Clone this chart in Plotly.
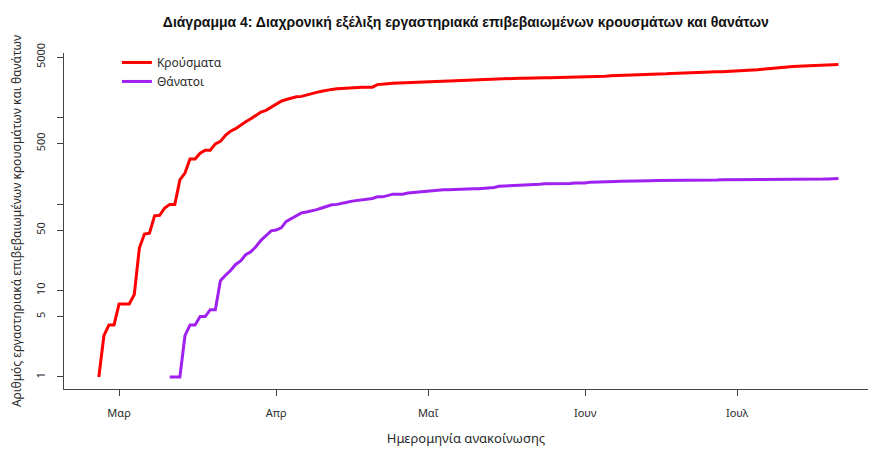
import pandas as pd
import plotly.graph_objects as go

# Κρούσματα: αθροιστικά, ημερήσια από 26/2/2020
cases_start = "2020-02-26"
cases = [1, 3, 4, 4,
         7, 7, 7, 9, 31, 45, 46, 73, 74, 90, 99, 99, 190, 228, 331, 331,
         387, 418, 418, 495, 530, 624, 695, 743, 821, 892, 966, 1061, 1156, 1212, 1314,
         1415, 1544, 1613, 1673, 1735, 1755, 1832, 1884, 1955, 2011, 2081, 2114, 2145, 2170, 2192,
         2207, 2224, 2235, 2235, 2245, 2401, 2408, 2463, 2490, 2506, 2517, 2534, 2566, 2576, 2591,
         2612, 2620, 2626, 2632, 2642, 2663, 2678, 2691, 2710, 2716, 2726, 2744, 2760, 2770, 2819,
         2834, 2836, 2840, 2850, 2853, 2873, 2876, 2878, 2882, 2892, 2903, 2906, 2909, 2915, 2917, 2918,
         2937, 2952, 2967, 2980, 2997, 3049, 3058, 3060, 3083, 3088, 3102, 3112, 3121, 3134, 3148,
         3166, 3203, 3227, 3237, 3256, 3266, 3287, 3302, 3310, 3343, 3366, 3376, 3390, 3409, 3432,
         3458, 3486, 3511, 3519, 3562, 3622, 3672, 3732, 3772, 3803, 3826, 3878, 3910, 3939, 3964,
         3983, 4007, 4012, 4048, 4077, 4109]

# Θάνατοι: αθροιστικά, ημερήσια από 11/3/2020
deaths_start = "2020-03-11"
deaths = [1, 1, 1, 3, 4, 4, 5, 5, 6, 6, 13, 15, 17, 20, 22, 26, 28, 32, 38, 43, 49,
          50, 53, 63, 68, 73, 79, 81, 83, 86, 90, 93, 98, 99, 101, 105, 108, 110, 113, 116, 116,
          121, 121, 125, 130, 130, 130, 134, 136, 138, 139,
          140, 143, 144, 146, 146, 147, 148, 150, 150, 150, 150, 151, 151, 155, 160, 162,
          163, 165, 165, 166, 166, 168, 169, 171, 171, 171, 172, 173, 173, 175, 175,
          175, 179, 179, 180, 180, 182, 182, 183, 183, 183, 183, 183, 184, 186, 187,
          187, 188, 188, 188, 189, 189, 190, 190, 190, 190, 190, 190, 191, 191, 192,
          192, 192, 192, 192, 192, 192, 192, 193, 193, 193, 193, 193, 193,
          194, 194, 194, 194, 194, 195, 195, 197]

month_ticks = ["2020-03-01", "2020-04-01", "2020-05-01", "2020-06-01", "2020-07-01"]
month_labels = ["Μαρ", "Απρ", "Μαΐ", "Ιουν", "Ιουλ"]
y_ticks = [1, 5, 10, 50, 100, 500, 1000, 5000]
y_labels = ["1", "5", "10", "50", "", "500", "", "5000"]

cases_dates = pd.date_range(cases_start, periods=len(cases), freq="D")
deaths_dates = pd.date_range(deaths_start, periods=len(deaths), freq="D")

FONT = "Noto Sans"
TXT = "#2a2a2a"

fig = go.Figure()
fig.add_trace(go.Scatter(x=cases_dates, y=cases, mode="lines", name="Κρούσματα",
                         line=dict(color="#FF0000", width=3)))
fig.add_trace(go.Scatter(x=deaths_dates, y=deaths, mode="lines", name="Θάνατοι",
                         line=dict(color="#A020F0", width=3)))

# η σελίδα έχει περιθώριο 8px, οπότε το σχήμα είναι 8px μικρότερο
fig.update_layout(
    width=872, height=454,
    margin=dict(l=56, r=12, t=45, b=73),
    paper_bgcolor="white", plot_bgcolor="white",
    font=dict(family=FONT, size=11, color=TXT),
    title=dict(text="<b>Διάγραμμα 4: Διαχρονική εξέλιξη εργαστηριακά επιβεβαιωμένων κρουσμάτων και θανάτων</b>",
               x=0.525, xanchor="center", y=0.969, yanchor="middle",
               font=dict(family="Liberation Sans", size=14, color="#111111")),
    legend=dict(x=0.0658, y=1.015, xanchor="left", yanchor="top",
                bgcolor="rgba(0,0,0,0)", font=dict(size=12, color=TXT)),
    xaxis=dict(type="date", range=["2020-02-19 03:00", "2020-07-26 20:00"],
               tickvals=month_ticks, ticktext=month_labels,
               showgrid=False, zeroline=False, automargin=False,
               showline=True, linecolor="#444444", linewidth=1.3,
               ticks="outside", ticklen=6, tickcolor="#444444", ticklabelstandoff=8,
               title=dict(text="Ημερομηνία ανακοίνωσης", standoff=14)),
    yaxis=dict(type="log", range=[-0.139, 3.746],
               tickvals=y_ticks, ticktext=y_labels, tickangle=-90,
               showgrid=False, zeroline=False, automargin=False,
               showline=True, linecolor="#444444", linewidth=1.3,
               ticks="outside", ticklen=6, tickcolor="#444444", ticklabelstandoff=7,
               title=dict(text="Αριθμός εργαστηριακά επιβεβαιωμένων κρουσμάτων και θανάτων",
                          font=dict(size=12), standoff=20)),
)

fig.write_html("out.html")
